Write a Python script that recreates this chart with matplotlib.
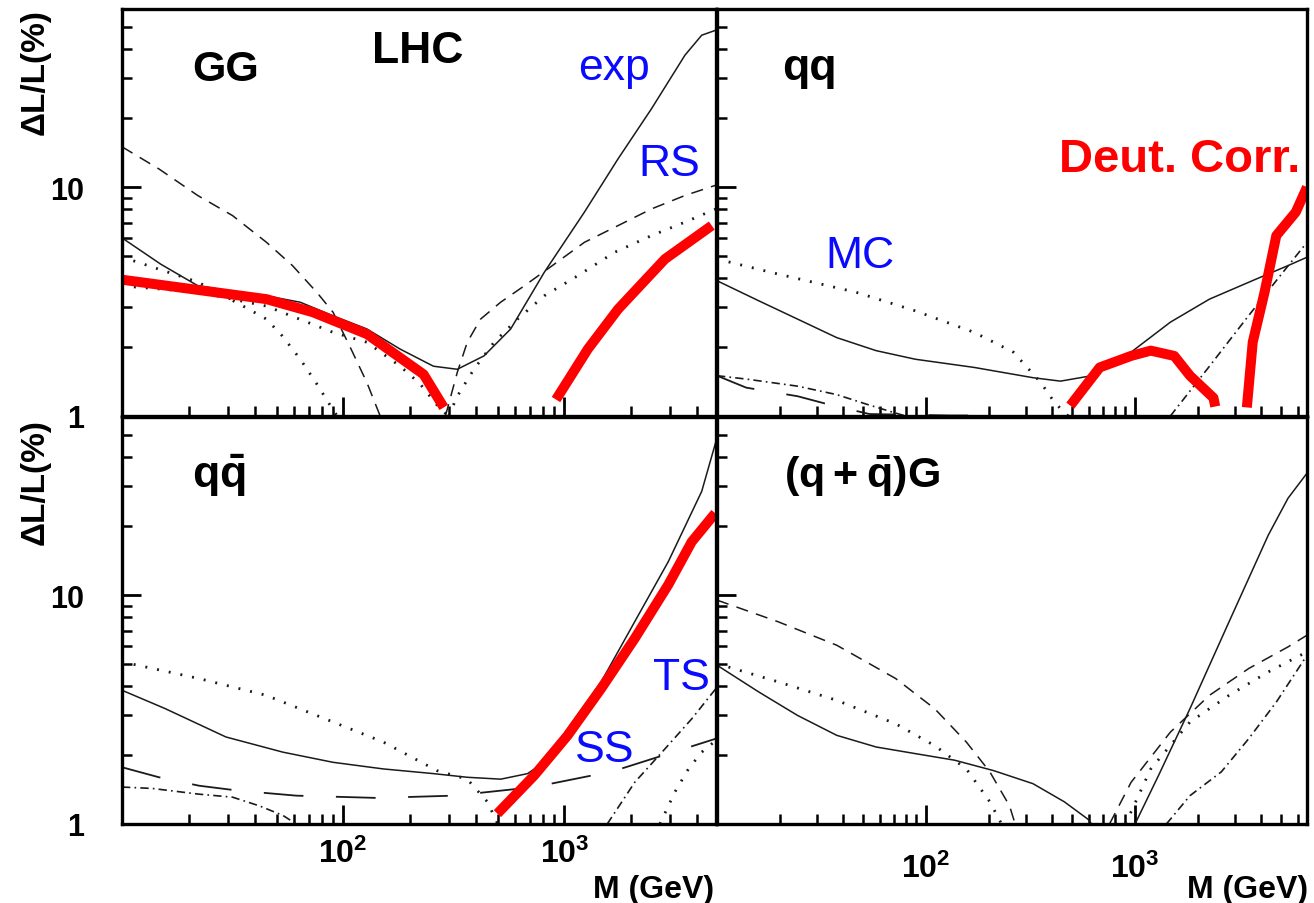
import matplotlib
matplotlib.use('Agg')
import matplotlib.pyplot as plt
from matplotlib.ticker import FixedLocator, FixedFormatter, LogLocator, NullFormatter

# ---- data (M in GeV, dL/L in %) ----
# GG panel
gg_solid_m = [10, 15, 22, 32, 45, 64, 90, 128, 181, 256, 328, 433, 572, 811, 1233, 1750, 2478, 3510, 4180, 4850]
gg_solid_v = [6.0, 4.6, 3.71, 3.5, 3.35, 3.14, 2.74, 2.40, 1.96, 1.65, 1.60, 1.83, 2.40, 4.24, 7.78, 13.3, 22.0, 37.7, 46.1, 48.5]
gg_dash_lo_m = [10, 14.7, 22, 31.6, 45, 59, 76, 90, 107, 128, 147]
gg_dash_lo_v = [15.0, 12.0, 9.19, 7.51, 5.74, 4.54, 3.47, 2.84, 2.02, 1.40, 1.0]
gg_dash_hi_m = [290, 328, 364, 418, 515, 658, 811, 1233, 1750, 2478, 3510, 4850]
gg_dash_hi_v = [1.0, 1.55, 2.1, 2.65, 3.14, 3.7, 4.28, 5.74, 6.79, 8.03, 9.19, 10.2]
gg_dotA_m = [10, 22, 36, 45, 53, 64, 76, 87, 94]
gg_dotA_v = [4.95, 3.85, 2.99, 2.65, 2.24, 1.77, 1.38, 1.12, 1.0]
gg_dotB_lo_m = [10, 22, 45, 90, 128, 181, 223, 275, 300]
gg_dotB_lo_v = [3.70, 3.48, 3.02, 2.32, 2.10, 1.65, 1.38, 1.07, 1.0]
gg_dotB_hi_m = [300, 328, 390, 481, 614, 811, 1150, 1687, 2478, 3510, 4850]
gg_dotB_hi_v = [1.0, 1.22, 1.60, 2.10, 2.65, 3.35, 4.10, 5.19, 6.14, 7.03, 8.03]
gg_red_lo_m = [10, 45, 73, 128, 231, 285]
gg_red_lo_v = [3.94, 3.24, 2.84, 2.28, 1.52, 1.09]
gg_red_hi_m = [917, 1277, 1750, 2851, 4641]
gg_red_hi_v = [1.18, 1.96, 2.93, 4.85, 6.79]

# qq panel
qq_solid_m = [10, 15.8, 24.3, 37.4, 57.7, 88.9, 170, 325, 440, 621, 957, 1476, 2271, 3811, 5395, 6650]
qq_solid_v = [3.90, 3.19, 2.65, 2.20, 1.93, 1.77, 1.63, 1.47, 1.42, 1.50, 1.90, 2.57, 3.24, 3.97, 4.54, 4.94]
qq_dot_m = [10, 19.6, 46.4, 88.9, 170, 262, 354, 403, 459, 480]
qq_dot_v = [4.85, 4.17, 3.47, 2.88, 2.32, 1.90, 1.40, 1.18, 1.03, 1.0]
qq_dashdot_lo_m = [10, 13.8, 24.3, 37.4, 52.9, 71.5, 80]
qq_dashdot_lo_v = [1.50, 1.45, 1.35, 1.24, 1.12, 1.03, 1.0]
qq_dashdot_hi_m = [1476, 2271, 3491, 4948, 6650]
qq_dashdot_hi_v = [1.0, 1.65, 2.74, 4.10, 5.74]
qq_ldash_m = [10, 13.8, 24.3, 34.6, 53.6, 130, 200]
qq_ldash_v = [1.50, 1.33, 1.22, 1.12, 1.02, 1.005, 1.005]
qq_red_a_m = [490, 678, 957, 1189, 1541, 1832, 2373, 2420]
qq_red_a_v = [1.11, 1.63, 1.83, 1.93, 1.83, 1.50, 1.20, 1.10]
qq_red_b_m = [3428, 3657, 4165, 4743, 5879, 6650]
qq_red_b_v = [1.09, 2.10, 3.47, 6.14, 7.78, 10.0]

# q qbar panel
qqb_solid_m = [10, 15.7, 29.5, 53.4, 90, 152, 256, 364, 516, 682, 811, 1036, 1468, 2080, 2951, 4180, 4850]
qqb_solid_v = [3.84, 3.19, 2.40, 2.06, 1.86, 1.74, 1.66, 1.60, 1.57, 1.66, 1.86, 2.61, 4.18, 7.65, 14.0, 28.4, 47.0]
qqb_dot_lo_m = [10, 22.3, 44.8, 90, 152, 266, 364, 449, 500]
qqb_dot_lo_v = [5.11, 4.32, 3.65, 2.79, 2.28, 1.71, 1.57, 1.25, 1.0]
qqb_dot_hi_m = [2704, 3162, 3640, 4180, 4850]
qqb_dot_hi_v = [1.0, 1.38, 1.74, 2.06, 2.32]
qqb_ldash_m = [10, 14.7, 22.3, 33.3, 61.4, 142, 316, 731, 1660, 3576, 4850]
qqb_ldash_v = [1.77, 1.60, 1.47, 1.40, 1.33, 1.30, 1.33, 1.45, 1.70, 2.15, 2.36]
qqb_dashdot_lo_m = [10, 13.7, 22.3, 31.6, 41.8, 53.4, 61.4]
qqb_dashdot_lo_v = [1.45, 1.43, 1.35, 1.31, 1.20, 1.09, 1.0]
qqb_dashdot_hi_m = [1563, 2080, 2851, 3767, 4850]
qqb_dashdot_hi_v = [1.0, 1.52, 2.13, 2.88, 3.91]
qqb_red_m = [498, 731, 1036, 1468, 2080, 2951, 3767, 4810]
qqb_red_v = [1.11, 1.63, 2.44, 3.91, 6.46, 11.1, 17.1, 22.8]

# (q+qbar)G panel
qg_solid_lo_m = [10, 15.8, 24.3, 37.4, 57.7, 88.9, 137, 211, 325, 459, 595, 620]
qg_solid_lo_v = [4.94, 3.78, 2.98, 2.44, 2.17, 2.03, 1.90, 1.71, 1.50, 1.25, 1.05, 1.0]
qg_solid_hi_m = [1000, 1296, 1832, 2818, 4343, 5395, 6650]
qg_solid_hi_v = [1.0, 1.63, 3.19, 7.65, 18.3, 26.5, 34.1]
qg_dash_lo_m = [10, 19.6, 37.4, 71.6, 110, 156, 202, 251, 267]
qg_dash_lo_v = [9.51, 7.65, 6.04, 4.32, 3.19, 2.28, 1.69, 1.20, 1.0]
qg_dash_hi_m = [755, 957, 1476, 2271, 3500, 5395, 6650]
qg_dash_hi_v = [1.0, 1.52, 2.52, 3.65, 4.78, 5.94, 6.68]
qg_dot_lo_m = [10, 19.6, 37.4, 71.6, 110, 156, 202, 230]
qg_dot_lo_v = [5.02, 4.18, 3.47, 2.74, 2.20, 1.74, 1.25, 1.0]
qg_dot_hi_m = [900, 1189, 1832, 2818, 4343, 6650]
qg_dot_hi_v = [1.0, 1.74, 2.79, 3.65, 4.62, 5.65]
qg_dashdot_m = [1413, 1832, 2588, 3500, 4743, 6650]
qg_dashdot_v = [1.0, 1.33, 1.69, 2.36, 3.41, 5.46]

# ---- styles ----
plt.rcParams['font.family'] = ['Liberation Sans', 'DejaVu Sans']
plt.rcParams['mathtext.fontset'] = 'custom'
plt.rcParams['mathtext.rm'] = 'Liberation Sans'
plt.rcParams['mathtext.bf'] = 'Liberation Sans:bold'

INK = '#1a1a1a'
SOLID = dict(color=INK, lw=1.1, ls='-')
DASH = dict(color=INK, lw=1.1, ls=(0, (8, 5.5)))
DOT = dict(color=INK, lw=2.0, ls=(0, (0.7, 3.6)))
LDASH = dict(color=INK, lw=1.3, ls=(0, (22, 18)))
DDOT = dict(color=INK, lw=1.2, ls=(0, (5, 2.5, 1, 2.5)))
RED = dict(color='#ff0000', lw=7.2, ls='-', solid_capstyle='butt', zorder=5)
BLUE = '#0a0aff'

W, H = 1314, 904
fig = plt.figure(figsize=(W / 100, H / 100), dpi=100)


def make_ax(x0, x1, y0, y1):
    return fig.add_axes([x0 / W, 1 - y1 / H, (x1 - x0) / W, (y1 - y0) / H])


ax_gg = make_ax(122, 716, 10, 417)
ax_qq = make_ax(717, 1307, 10, 417)
ax_qqb = make_ax(122, 716, 418, 825)
ax_qg = make_ax(717, 1307, 418, 825)


def style(ax, xmax, xlab, ylab, xpad=8):
    ax.set_xscale('log')
    ax.set_yscale('log')
    ax.set_xlim(10, xmax)
    ax.set_ylim(1, 60)
    for s in ax.spines.values():
        s.set_linewidth(2.4)
        s.set_zorder(10)
    ax.xaxis.set_major_locator(FixedLocator([10, 100, 1000]))
    ax.xaxis.set_minor_locator(LogLocator(subs=range(2, 10)))
    ax.yaxis.set_major_locator(FixedLocator([1, 10]))
    ax.yaxis.set_minor_locator(LogLocator(subs=range(2, 10)))
    ax.xaxis.set_minor_formatter(NullFormatter())
    ax.yaxis.set_minor_formatter(NullFormatter())
    ax.tick_params(which='major', direction='in', length=14, width=2.0,
                   top=False, right=False)
    ax.tick_params(which='minor', direction='in', length=7.5, width=1.8,
                   top=False, right=False)
    if xlab:
        ax.xaxis.set_major_formatter(FixedFormatter(
            ['', r'$\mathbf{10^{2}}$', r'$\mathbf{10^{3}}$']))
        ax.tick_params(axis='x', labelsize=23, pad=xpad)
    else:
        ax.xaxis.set_major_formatter(NullFormatter())
    if ylab:
        ax.yaxis.set_major_formatter(FixedFormatter(['1', '10']))
        ax.tick_params(axis='y', labelsize=22, pad=27)
        for t in ax.get_yticklabels():
            t.set_fontweight('bold')
    else:
        ax.yaxis.set_major_formatter(NullFormatter())


style(ax_gg, 4850, False, True)
style(ax_qq, 6650, False, False)
style(ax_qqb, 4850, True, True, xpad=10)
style(ax_qg, 6650, True, False, xpad=21)

# GG
ax_gg.plot(gg_solid_m, gg_solid_v, **SOLID)
ax_gg.plot(gg_dash_lo_m, gg_dash_lo_v, **DASH)
ax_gg.plot(gg_dash_hi_m, gg_dash_hi_v, **DASH)
ax_gg.plot(gg_dotA_m, gg_dotA_v, **DOT)
ax_gg.plot(gg_dotB_lo_m, gg_dotB_lo_v, **DOT)
ax_gg.plot(gg_dotB_hi_m, gg_dotB_hi_v, **DOT)
ax_gg.plot(gg_red_lo_m, gg_red_lo_v, **RED)
ax_gg.plot(gg_red_hi_m, gg_red_hi_v, **RED)

# qq
ax_qq.plot(qq_solid_m, qq_solid_v, **SOLID)
ax_qq.plot(qq_dot_m, qq_dot_v, **DOT)
ax_qq.plot(qq_dashdot_lo_m, qq_dashdot_lo_v, **DDOT)
ax_qq.plot(qq_dashdot_hi_m, qq_dashdot_hi_v, **DDOT)
ax_qq.plot(qq_ldash_m, qq_ldash_v, **LDASH)
ax_qq.plot(qq_red_a_m, qq_red_a_v, **RED)
ax_qq.plot(qq_red_b_m, qq_red_b_v, **RED)

# q qbar
ax_qqb.plot(qqb_solid_m, qqb_solid_v, **SOLID)
ax_qqb.plot(qqb_dot_lo_m, qqb_dot_lo_v, **DOT)
ax_qqb.plot(qqb_dot_hi_m, qqb_dot_hi_v, **DOT)
ax_qqb.plot(qqb_ldash_m, qqb_ldash_v, **LDASH)
ax_qqb.plot(qqb_dashdot_lo_m, qqb_dashdot_lo_v, **DDOT)
ax_qqb.plot(qqb_dashdot_hi_m, qqb_dashdot_hi_v, **DDOT)
ax_qqb.plot(qqb_red_m, qqb_red_v, **RED)

# (q+qbar)G
ax_qg.plot(qg_solid_lo_m, qg_solid_lo_v, **SOLID)
ax_qg.plot(qg_solid_hi_m, qg_solid_hi_v, **SOLID)
ax_qg.plot(qg_dash_lo_m, qg_dash_lo_v, **DASH)
ax_qg.plot(qg_dash_hi_m, qg_dash_hi_v, **DASH)
ax_qg.plot(qg_dot_lo_m, qg_dot_lo_v, **DOT)
ax_qg.plot(qg_dot_hi_m, qg_dot_hi_v, **DOT)
ax_qg.plot(qg_dashdot_m, qg_dashdot_v, **DDOT)


def label(x, y, s, size, color='black', weight='bold', ha='left', **kw):
    fig.text(x / W, 1 - y / H, s, fontsize=size, color=color,
             fontweight=weight, ha=ha, va='baseline', **kw)


# panel texts (pixel positions, baseline)
label(192, 81, 'GG', 31)
label(372, 63, 'LHC', 32)
label(578, 80, 'exp', 32, BLUE, 'normal')
label(638, 176, 'RS', 32, BLUE, 'normal')
label(782, 80, 'qq', 32)
label(825, 268, 'MC', 32, BLUE, 'normal')
label(1059, 172, 'Deut. Corr.', 34, '#ff0000')
label(192, 488, r'$\mathbf{q\bar{q}}$', 32)
label(653, 690, 'TS', 32, BLUE, 'normal')
label(575, 762, 'SS', 32, BLUE, 'normal')
label(784, 488, r'$\mathbf{(q + \bar{q})G}$', 31)
label(714, 898, 'M (GeV)', 23, ha='right')
label(1308, 898, 'M (GeV)', 23, ha='right')

for yc in (72, 482):
    fig.text(35 / W, 1 - yc / H, 'ΔL/L(%)', rotation=90, fontsize=24,
             fontweight='bold', ha='center', va='center')

fig.savefig('out.png', dpi=100)
